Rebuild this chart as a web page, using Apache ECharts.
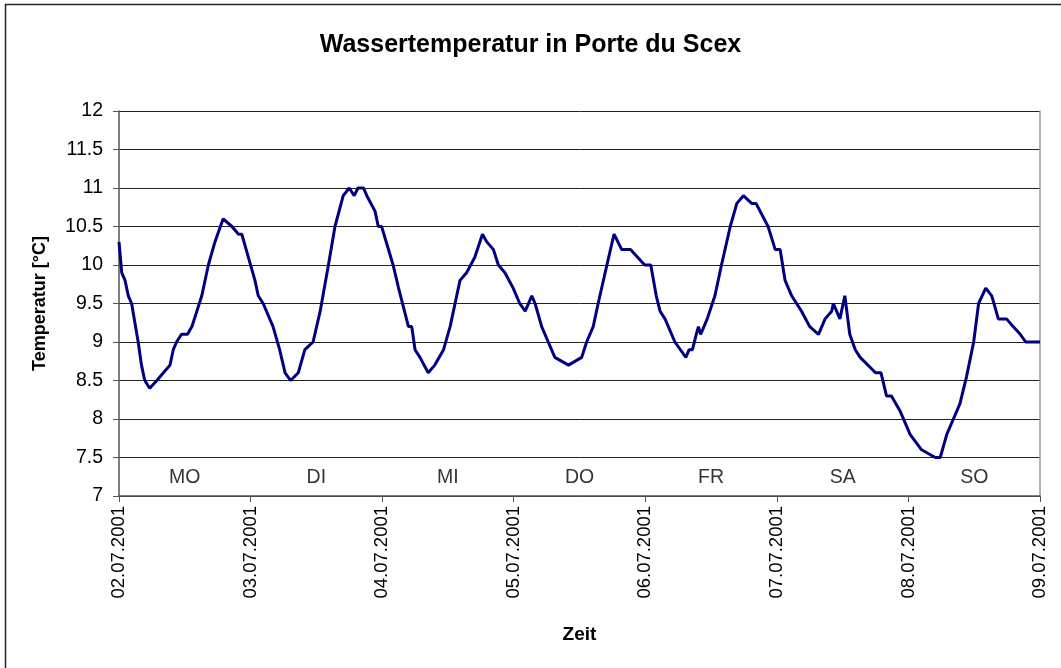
<!DOCTYPE html>
<html>
<head>
<meta charset="utf-8">
<script src="https://cdn.jsdelivr.net/npm/echarts@6/dist/echarts.min.js"></script>
<style>
  html, body { margin: 0; padding: 0; background: #fff; }
  #chart { width: 1061px; height: 668px; }
</style>
</head>
<body>
<div id="chart"></div>
<script>
// Stunden seit 02.07.2001 00:00
var hours = [
  0, 0.5, 1.1, 1.7, 2.3, 3.5, 4.1, 4.7, 5.6, 6.9,
  8.1, 9.3, 9.9, 10.5, 11.4, 12.5, 13.3, 14.2, 15.1, 16.3,
  17.5, 19.0, 20.6, 21.8, 22.4, 23.6, 24.8, 25.4, 26.3, 28.1,
  29.3, 30.3, 31.3, 32.7, 33.9, 35.4, 36.7, 38.2, 39.4, 40.9,
  42.0, 42.9, 43.6, 44.6, 45.2, 46.7, 47.3, 47.9, 50.0, 51.0,
  51.9, 52.8, 53.4, 54.0, 54.9, 55.2, 56.4, 57.6, 59.2, 60.4,
  62.2, 63.4, 64.9, 66.3, 67.1, 68.3, 69.2, 70.4, 71.9, 73.1,
  74.1, 75.3, 75.9, 77.1, 78.3, 79.5, 82.0, 84.4, 85.3, 86.5,
  87.4, 89.0, 90.3, 91.7, 93.3, 95.9, 97.0, 98.0, 98.7, 99.6,
  101.4, 103.4, 104.0, 104.6, 105.3, 105.7, 106.1, 107.3, 108.7, 109.9,
  111.5, 112.7, 113.9, 115.4, 116.2, 118.4, 119.7, 120.6, 121.5, 122.7,
  124.5, 126.0, 127.6, 128.8, 130.0, 130.3, 130.9, 131.5, 132.4, 133.3,
  134.3, 135.2, 138.0, 139.0, 140.0, 140.9, 142.5, 143.7, 144.3, 146.4,
  148.9, 149.8, 151.0, 152.2, 153.4, 154.6, 155.9, 156.8, 158.1, 159.2,
  160.4, 161.9, 163.1, 164.4, 165.4, 168
];
// Wassertemperatur [°C]
var temps = [
  10.3, 9.9, 9.8, 9.6, 9.5, 9.0, 8.7, 8.5, 8.4, 8.5,
  8.6, 8.7, 8.9, 9.0, 9.1, 9.1, 9.2, 9.4, 9.6, 10.0,
  10.3, 10.6, 10.5, 10.4, 10.4, 10.1, 9.8, 9.6, 9.5, 9.2,
  8.9, 8.6, 8.5, 8.6, 8.9, 9.0, 9.4, 10.0, 10.5, 10.9,
  11.0, 10.9, 11.0, 11.0, 10.9, 10.7, 10.5, 10.5, 10.0, 9.7,
  9.45, 9.2, 9.2, 8.9, 8.8, 8.8, 8.6, 8.7, 8.9, 9.2,
  9.8, 9.9, 10.1, 10.4, 10.3, 10.2, 10.0, 9.9, 9.7, 9.5,
  9.4, 9.6, 9.5, 9.2, 9.0, 8.8, 8.7, 8.8, 9.0, 9.2,
  9.5, 10.0, 10.4, 10.2, 10.2, 10.0, 10.0, 9.6, 9.4, 9.3,
  9.0, 8.8, 8.9, 8.9, 9.1, 9.2, 9.1, 9.3, 9.6, 10.0,
  10.5, 10.8, 10.9, 10.8, 10.8, 10.5, 10.2, 10.2, 9.8, 9.6,
  9.4, 9.2, 9.1, 9.3, 9.4, 9.5, 9.4, 9.3, 9.6, 9.1,
  8.9, 8.8, 8.6, 8.6, 8.3, 8.3, 8.1, 7.9, 7.8, 7.6,
  7.5, 7.5, 7.8, 8.0, 8.2, 8.55, 9.0, 9.5, 9.7, 9.6,
  9.3, 9.3, 9.2, 9.1, 9.0, 9.0
];

var dateLabels = ['02.07.2001', '03.07.2001', '04.07.2001', '05.07.2001',
                  '06.07.2001', '07.07.2001', '08.07.2001', '09.07.2001'];
var dayNames = ['MO', 'DI', 'MI', 'DO', 'FR', 'SA', 'SO'];

var chart = echarts.init(document.getElementById('chart'));

var fontFam = 'Liberation Sans, Arial, sans-serif';

var option = {
  animation: false,
  title: {
    text: 'Wassertemperatur in Porte du Scex',
    left: 'center',
    top: 28,
    textStyle: {
      fontFamily: fontFam,
      fontSize: 25,
      fontWeight: 'bold',
      color: '#000'
    }
  },
  graphic: [{
    type: 'rect',
    shape: { x: 5.5, y: 4.5, width: 1070, height: 680 },
    style: { fill: 'none', stroke: '#222', lineWidth: 1.5 },
    silent: true
  }],
  grid: {
    left: 119,
    right: 21,
    top: 111,
    bottom: 172
  },
  xAxis: {
    type: 'value',
    min: 0,
    max: 168,
    interval: 24,
    name: 'Zeit',
    nameLocation: 'middle',
    nameGap: 129,
    nameTextStyle: {
      fontFamily: fontFam,
      fontSize: 19,
      fontWeight: 'bold',
      color: '#000'
    },
    axisLine: { lineStyle: { color: '#555', width: 1.5 } },
    axisTick: { show: true, length: 6, lineStyle: { color: '#555' } },
    axisLabel: {
      rotate: 90,
      margin: 10,
      fontFamily: fontFam,
      fontSize: 18.5,
      color: '#000',
      formatter: function (v) { return dateLabels[Math.round(v / 24)]; }
    },
    splitLine: { show: false }
  },
  yAxis: [{
    type: 'value',
    min: 7,
    max: 12,
    interval: 0.5,
    name: 'Temperatur [°C]',
    nameLocation: 'middle',
    nameGap: 70,
    nameTextStyle: {
      fontFamily: fontFam,
      fontSize: 18,
      fontWeight: 'bold',
      color: '#000'
    },
    axisLine: { show: true, lineStyle: { color: '#555', width: 1.5 } },
    axisTick: { show: true, length: 6, lineStyle: { color: '#555' } },
    axisLabel: {
      margin: 16,
      fontFamily: fontFam,
      fontSize: 19.5,
      color: '#000'
    },
    splitLine: { show: true, lineStyle: { color: '#222', width: 1 } }
  }, {
    // rechter Rand der Zeichenfläche
    type: 'value',
    position: 'right',
    min: 7,
    max: 12,
    interval: 0.5,
    axisLine: { show: true, lineStyle: { color: '#999', width: 1.5 } },
    axisTick: { show: false },
    axisLabel: { show: false },
    splitLine: { show: false }
  }],
  series: [
    {
      name: 'Wassertemperatur',
      type: 'line',
      data: hours.map(function (h, i) { return [h, temps[i]]; }),
      showSymbol: false,
      lineStyle: { color: '#000080', width: 3 },
      z: 3
    },
    {
      // Wochentag-Beschriftung in der Mitte jedes Tages
      type: 'scatter',
      symbolSize: 0,
      silent: true,
      data: dayNames.map(function (d, i) { return { value: [i * 24 + 12, 7.24], name: d }; }),
      label: {
        show: true,
        position: 'inside',
        formatter: '{b}',
        fontFamily: fontFam,
        fontSize: 19.5,
        color: '#000'
      }
    }
  ]
};

chart.setOption(option);
</script>
</body>
</html>
